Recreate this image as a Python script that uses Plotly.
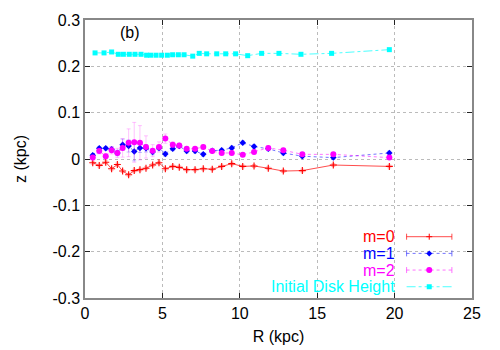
import plotly.graph_objects as go

# radius grid of the m-mode measurements (kpc)
r_modes = [0.50, 0.92, 1.34, 1.72, 2.09, 2.43, 2.82, 3.18, 3.55, 3.94, 4.37, 4.78, 5.19, 5.67,
           6.09, 6.57, 7.11, 7.64, 8.22, 8.83, 9.48, 10.19, 10.92, 11.84, 12.81, 14.04, 16.04, 19.66]

z_m0 = [-0.008, -0.014, -0.007, -0.021, -0.012, -0.026, -0.034, -0.025, -0.023, -0.020, -0.013, -0.008,
        -0.021, -0.016, -0.018, -0.023, -0.023, -0.021, -0.022, -0.016, -0.010, -0.016, -0.015, -0.020,
        -0.026, -0.025, -0.013, -0.016]
err_m0 = [0.003] * 28

z_m1 = [0.008, 0.023, 0.023, 0.021, 0.013, 0.031, 0.028, 0.016, 0.024, 0.023, 0.015, 0.024, 0.011, 0.022,
        0.028, 0.017, 0.017, 0.010, 0.018, 0.019, 0.024, 0.035, 0.027, 0.022, 0.013, 0.006, 0.003, 0.013]
err_m1 = [0.004, 0.004, 0.004, 0.005, 0.006, 0.012, 0.013, 0.020, 0.010, 0.008, 0.006, 0.005, 0.005, 0.004,
          0.004, 0.004, 0.004, 0.004, 0.004, 0.004, 0.004, 0.004, 0.004, 0.004, 0.004, 0.004, 0.004, 0.004]

z_m2 = [0.003, 0.017, 0.006, 0.019, 0.013, 0.024, 0.035, 0.036, 0.035, 0.026, 0.018, 0.026, 0.044, 0.031,
        0.029, 0.022, 0.022, 0.026, 0.017, 0.013, 0.013, 0.009, 0.015, 0.024, 0.019, 0.010, 0.010, 0.003]
err_m2 = [0.005, 0.006, 0.006, 0.008, 0.010, 0.020, 0.030, 0.043, 0.037, 0.024, 0.013, 0.011, 0.010, 0.006,
          0.005, 0.004, 0.004, 0.004, 0.004, 0.004, 0.004, 0.004, 0.004, 0.004, 0.004, 0.004, 0.004, 0.004]

# initial disk scale height
r_disk = [0.65, 1.23, 1.72, 2.15, 2.48, 2.86, 3.23, 3.62, 3.98, 4.24, 4.59, 4.95, 5.32, 5.66,
          6.03, 6.40, 6.96, 7.38, 7.86, 8.51, 9.09, 9.73, 10.51, 11.41, 12.53, 13.95, 15.93, 19.66]
z_disk = [0.229, 0.229, 0.231, 0.226, 0.226, 0.226, 0.226, 0.226, 0.224, 0.224, 0.224, 0.224, 0.224, 0.225,
          0.225, 0.225, 0.222, 0.228, 0.227, 0.227, 0.227, 0.227, 0.223, 0.228, 0.228, 0.226, 0.228, 0.236]

x_ticks = [0, 5, 10, 15, 20, 25]
y_ticks = [-0.3, -0.2, -0.1, 0, 0.1, 0.2, 0.3]
y_labels = ["-0.3", "-0.2", "-0.1", "0", "0.1", "0.2", "0.3"]

legend_names = ["m=0", "m=1", "m=2", "Initial Disk Height"]
colors = ["#ff0000", "#0000ff", "#ff00ff", "#00ffff"]
line_colors = ["rgba(255,0,0,0.7)", "rgba(0,0,255,0.55)", "rgba(255,0,255,0.55)", "rgba(0,255,255,0.7)"]
dashes = ["solid", "dot", "dot", "dashdot"]

fig = go.Figure()

fig.add_trace(go.Scatter(
    x=r_modes, y=z_m0, mode="lines+markers", showlegend=False,
    line=dict(color=line_colors[0], width=1),
    marker=dict(symbol="cross-thin", size=5, color="#ff0000", line=dict(color="#ff0000", width=1.1)),
    error_y=dict(type="data", array=err_m0, color="rgba(255,0,0,0.4)", thickness=0.8, width=2)))

fig.add_trace(go.Scatter(
    x=r_modes, y=z_m1, mode="lines+markers", showlegend=False,
    line=dict(color=line_colors[1], width=1, dash="dot"),
    marker=dict(symbol="diamond", size=5, color="#0000ff"),
    error_y=dict(type="data", array=err_m1, color="rgba(0,0,255,0.3)", thickness=0.8, width=2)))

fig.add_trace(go.Scatter(
    x=r_modes, y=z_m2, mode="lines+markers", showlegend=False,
    line=dict(color=line_colors[2], width=1, dash="dot"),
    marker=dict(symbol="circle", size=6, color="#ff00ff"),
    error_y=dict(type="data", array=err_m2, color="rgba(255,0,255,0.3)", thickness=0.8, width=2)))

fig.add_trace(go.Scatter(
    x=r_disk, y=z_disk, mode="lines+markers", showlegend=False,
    line=dict(color=line_colors[3], width=1, dash="dashdot"),
    marker=dict(symbol="square", size=5, color="#00ffff")))

font16 = dict(family="Liberation Sans", size=16, color="#000000")

axis_common = dict(
    showline=True, linecolor="#888888", linewidth=1.5, mirror="ticks",
    ticks="inside", ticklen=5, tickcolor="#222222",
    showgrid=True, gridcolor="#bbbbbb", griddash="dot", gridwidth=1,
    zeroline=False, automargin=False,
    tickfont=font16,
)

fig.update_xaxes(range=[0, 25], tickvals=x_ticks,
                 title=dict(text="R (kpc)", standoff=10, font=font16), **axis_common)
fig.update_yaxes(range=[-0.3, 0.3], tickvals=y_ticks, ticktext=y_labels,
                 title=dict(text="z (kpc)", standoff=22, font=font16), **axis_common)

# gnuplot-style key: right-aligned coloured text followed by a sample
annotations = [dict(text="(b)", x=0.085, y=0.955, xref="paper", yref="paper", showarrow=False,
                    xanchor="left", yanchor="middle", font=font16)]
shapes = []
key_x0, key_x1, key_xm = 0.831, 0.948, 0.8895
for i, (txt, col) in enumerate(zip(legend_names, colors)):
    ky = 0.2205 - i * 0.06
    annotations.append(dict(text=txt, x=0.806, y=ky, xref="paper", yref="paper",
                            showarrow=False, xanchor="right", yanchor="middle",
                            font=dict(family="Liberation Sans", size=16, color=col)))
    shapes.append(dict(type="line", xref="paper", yref="paper", x0=key_x0, x1=key_x1, y0=ky, y1=ky,
                       line=dict(color=line_colors[i], width=1, dash=dashes[i])))
    if i < 3:
        for ex in (key_x0, key_x1):
            shapes.append(dict(type="line", xref="paper", yref="paper", xsizemode="pixel",
                               ysizemode="pixel", xanchor=ex, yanchor=ky, x0=0, x1=0, y0=-3, y1=3,
                               line=dict(color=line_colors[i], width=1)))
    marker_common = dict(xref="paper", yref="paper", xsizemode="pixel", ysizemode="pixel",
                         xanchor=key_xm, yanchor=ky)
    if i == 0:
        shapes.append(dict(type="line", x0=-3, x1=3, y0=0, y1=0, line=dict(color=col, width=1), **marker_common))
        shapes.append(dict(type="line", x0=0, x1=0, y0=-3, y1=3, line=dict(color=col, width=1), **marker_common))
    elif i == 1:
        shapes.append(dict(type="path", path="M -3 0 L 0 3 L 3 0 L 0 -3 Z", fillcolor=col,
                           line=dict(width=0), **marker_common))
    elif i == 2:
        shapes.append(dict(type="circle", x0=-3, x1=3, y0=-3, y1=3, fillcolor=col,
                           line=dict(width=0), **marker_common))
    else:
        shapes.append(dict(type="rect", x0=-2.5, x1=2.5, y0=-2.5, y1=2.5, fillcolor=col,
                           line=dict(width=0), **marker_common))

fig.update_layout(
    width=500, height=350,
    margin=dict(l=77, r=36, t=12, b=60),
    plot_bgcolor="#ffffff", paper_bgcolor="#ffffff",
    showlegend=False,
    annotations=annotations,
    shapes=shapes,
)

fig.write_html("out.html")
